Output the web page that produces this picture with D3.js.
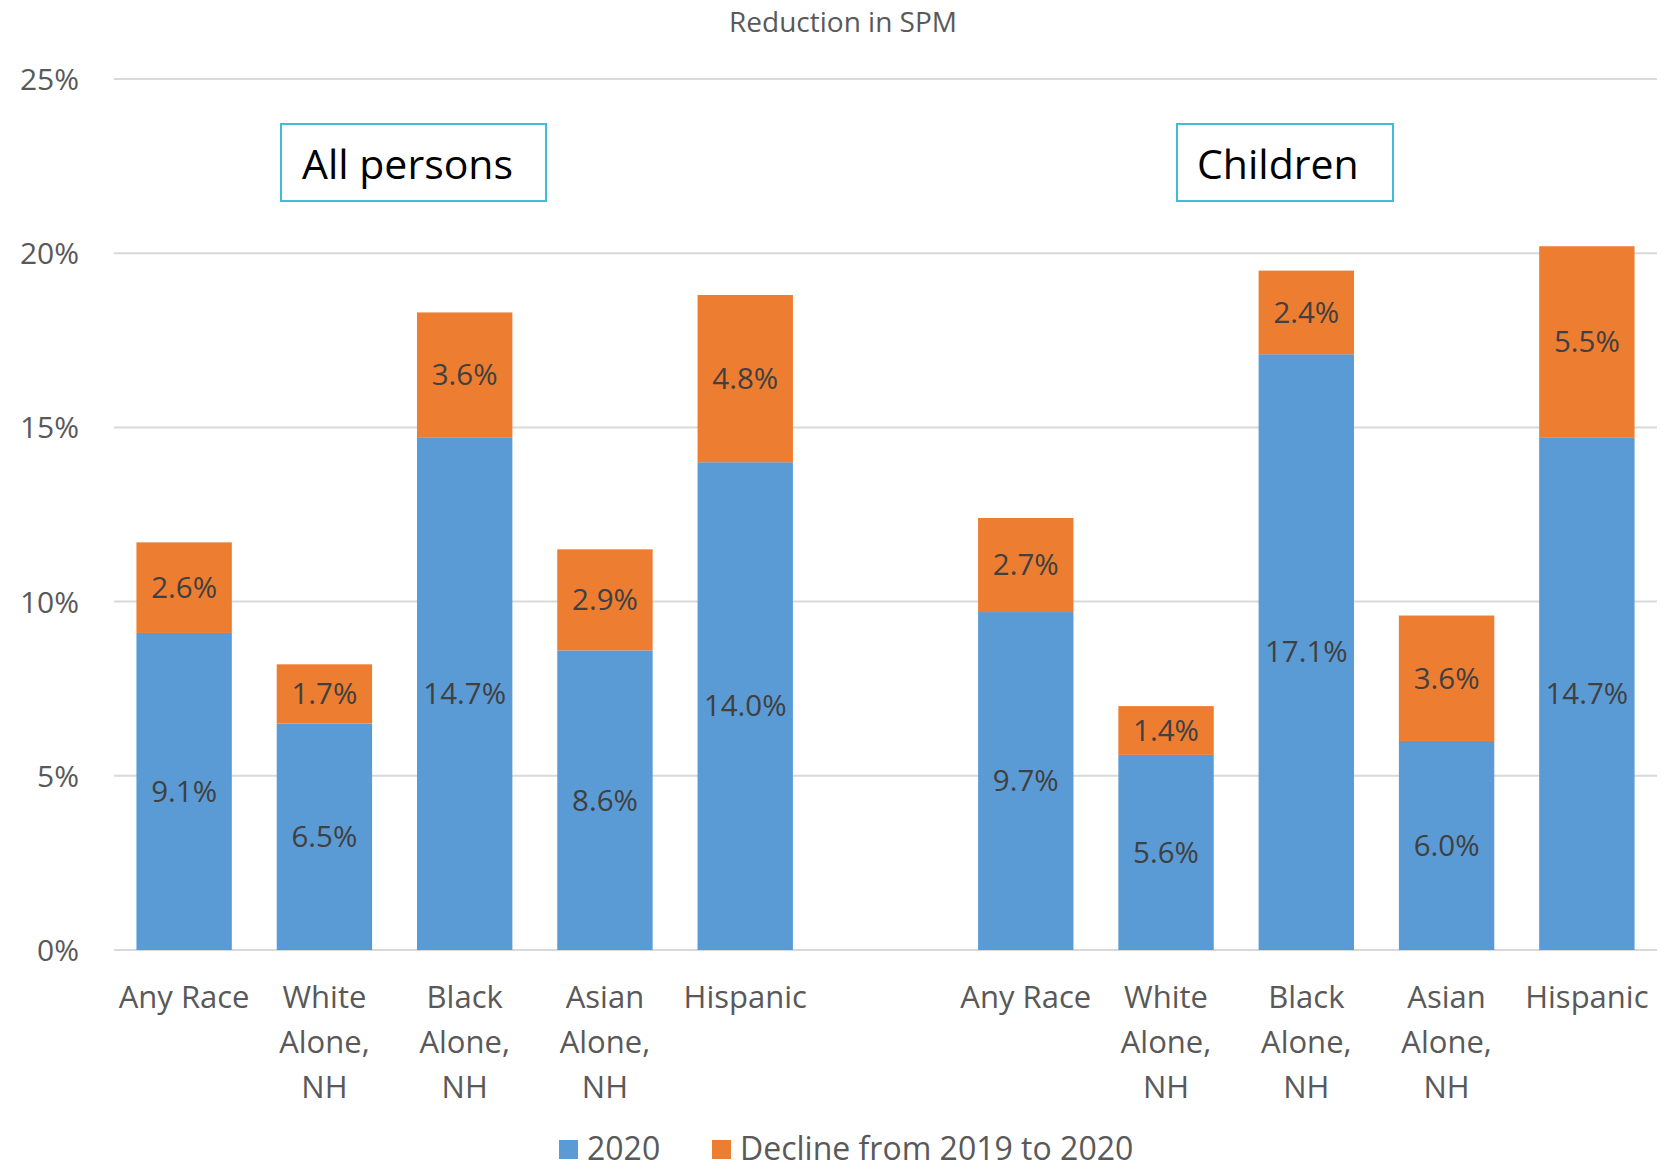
<!DOCTYPE html>
<html>
<head>
<meta charset="utf-8">
<script src="https://cdn.jsdelivr.net/npm/d3@7"></script>
<style>
  html, body { margin: 0; padding: 0; background: #fff; }
  svg { display: block; }
  text { font-family: "Open Sans", Lato, sans-serif; }
</style>
</head>
<body>
<svg id="chart" width="1678" height="1169"></svg>
<script>
// ---- Data ----
const groups = ["All persons", "Children"];
const categories = ["Any Race", "White Alone, NH", "Black Alone, NH", "Asian Alone, NH", "Hispanic"];
const categoryLines = [["Any Race"], ["White", "Alone,", "NH"], ["Black", "Alone,", "NH"], ["Asian", "Alone,", "NH"], ["Hispanic"]];
const values2020AllPersons = [9.1, 6.5, 14.7, 8.6, 14.0];
const declineAllPersons = [2.6, 1.7, 3.6, 2.9, 4.8];
const values2020Children = [9.7, 5.6, 17.1, 6.0, 14.7];
const declineChildren = [2.7, 1.4, 2.4, 3.6, 5.5];
const seriesNames = ["2020", "Decline from 2019 to 2020"];
const yTicks = [0, 5, 10, 15, 20, 25];
const chartTitle = "Reduction in SPM";

// ---- Build rows ----
const rows = [];
categories.forEach((c, i) => rows.push({ key: "A" + i, group: 0, lines: categoryLines[i], v2020: values2020AllPersons[i], decline: declineAllPersons[i] }));
const gapKey = "gap";
categories.forEach((c, i) => rows.push({ key: "C" + i, group: 1, lines: categoryLines[i], v2020: values2020Children[i], decline: declineChildren[i] }));
const domainKeys = rows.slice(0, 5).map(r => r.key).concat([gapKey]).concat(rows.slice(5).map(r => r.key));

const colors = { s2020: "#5B9BD5", decline: "#ED7D31" };

const svg = d3.select("#chart");
const plotLeft = 114, plotRight = 1657, plotTop = 79, plotBottom = 950;

const x = d3.scaleBand().domain(domainKeys).range([plotLeft, plotRight]).paddingInner(0.32).paddingOuter(0.16);
const y = d3.scaleLinear().domain([0, 25]).range([plotBottom, plotTop]);

// Title
svg.append("text").attr("x", 843).attr("y", 32).attr("text-anchor", "middle")
  .attr("font-size", 28).attr("fill", "#595959").text(chartTitle);

// Gridlines
svg.append("g").selectAll("line").data(yTicks).join("line")
  .attr("x1", plotLeft).attr("x2", plotRight)
  .attr("y1", d => y(d)).attr("y2", d => y(d))
  .attr("stroke", "#D9D9D9").attr("stroke-width", 2);

// Y axis labels
const yAxis = d3.axisLeft(y).tickValues(yTicks).tickFormat(d => d + "%").tickSize(0).tickPadding(0);
const yg = svg.append("g").attr("transform", `translate(79,0)`).call(yAxis);
yg.select(".domain").remove();
yg.selectAll("text").attr("font-size", 30).attr("fill", "#595959").attr("font-family", "'Open Sans', Lato, sans-serif").attr("dy", "0.35em");

// Bars
const bars = svg.append("g");
bars.selectAll("rect.b2020").data(rows).join("rect").attr("class", "b2020")
  .attr("x", d => x(d.key)).attr("width", x.bandwidth())
  .attr("y", d => y(d.v2020)).attr("height", d => y(0) - y(d.v2020))
  .attr("fill", colors.s2020);
bars.selectAll("rect.bdec").data(rows).join("rect").attr("class", "bdec")
  .attr("x", d => x(d.key)).attr("width", x.bandwidth())
  .attr("y", d => y(d.v2020 + d.decline)).attr("height", d => y(d.v2020) - y(d.v2020 + d.decline))
  .attr("fill", colors.decline);

// Value labels
const fmt = d3.format(".1f");
const lab = svg.append("g").attr("font-size", 29.5).attr("fill", "#404040").attr("text-anchor", "middle");
lab.selectAll("text.l2020").data(rows).join("text").attr("class", "l2020")
  .attr("x", d => x(d.key) + x.bandwidth() / 2)
  .attr("y", d => y(d.v2020 / 2)).attr("dy", "0.35em")
  .text(d => fmt(d.v2020) + "%");
lab.selectAll("text.ldec").data(rows).join("text").attr("class", "ldec")
  .attr("x", d => x(d.key) + x.bandwidth() / 2)
  .attr("y", d => y(d.v2020 + d.decline / 2)).attr("dy", "0.35em")
  .text(d => fmt(d.decline) + "%");

// Category labels
const cat = svg.append("g").attr("font-size", 31).attr("fill", "#595959").attr("text-anchor", "middle");
rows.forEach(r => {
  const t = cat.append("text").attr("x", x(r.key) + x.bandwidth() / 2).attr("y", 1008);
  r.lines.forEach((ln, i) => t.append("tspan").attr("x", x(r.key) + x.bandwidth() / 2).attr("dy", i === 0 ? 0 : 45).text(ln));
});

// Group boxes
const boxes = [
  { label: groups[0], x: 281, y: 124, w: 265, h: 77, tx: 302 },
  { label: groups[1], x: 1177, y: 124, w: 216, h: 77, tx: 1197 }
];
boxes.forEach(b => {
  svg.append("rect").attr("x", b.x).attr("y", b.y).attr("width", b.w).attr("height", b.h)
    .attr("fill", "#fff").attr("stroke", "#41BBD9").attr("stroke-width", 2);
  svg.append("text").attr("x", b.tx).attr("y", b.y + 55).attr("font-size", 41).attr("fill", "#000").text(b.label);
});

// Legend
const legend = svg.append("g").attr("font-size", 32).attr("fill", "#595959");
const legendItems = [
  { name: seriesNames[0], color: colors.s2020, x: 559 },
  { name: seriesNames[1], color: colors.decline, x: 712 }
];
legendItems.forEach(it => {
  legend.append("rect").attr("x", it.x).attr("y", 1140).attr("width", 19).attr("height", 19).attr("fill", it.color);
  legend.append("text").attr("x", it.x + 28).attr("y", 1160).text(it.name);
});
</script>
</body>
</html>
